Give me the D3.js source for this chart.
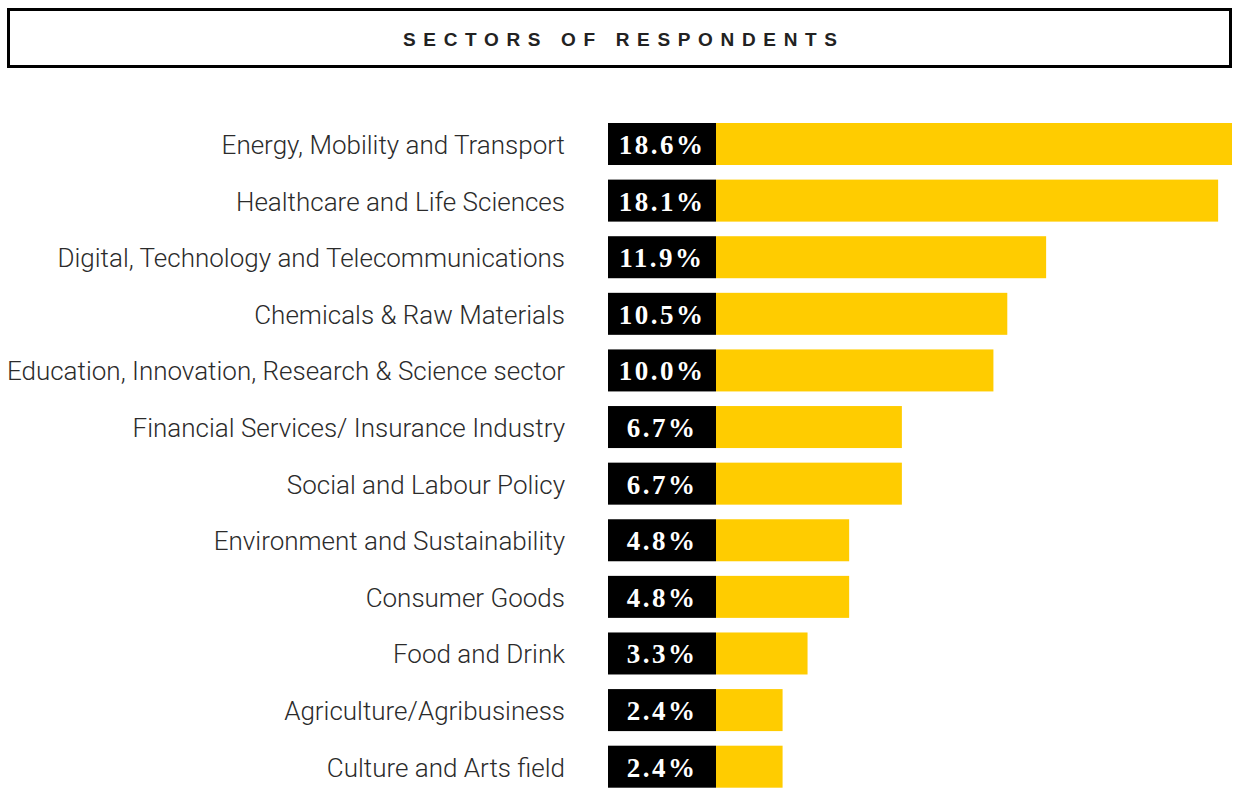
<!DOCTYPE html>
<html>
<head>
<meta charset="utf-8">
<script src="https://cdn.jsdelivr.net/npm/d3@7"></script>
<style>
    body { margin: 0; background: #fff; }
    svg { display: block; }
    .sector-label { font-family: Roboto, "Noto Sans", sans-serif; font-weight: 300; fill: #2b2b2b; }
    .pct-label { font-family: "Liberation Serif", "DejaVu Serif", serif; font-weight: bold; fill: #fff; }
</style>
</head>
<body>
<svg id="chart" width="1235" height="793"></svg>
<script>
// Sectors of respondents, share in %
const sectors = [
    "Energy, Mobility and Transport",
    "Healthcare and Life Sciences",
    "Digital, Technology and Telecommunications",
    "Chemicals & Raw Materials",
    "Education, Innovation, Research & Science sector",
    "Financial Services/ Insurance Industry",
    "Social and Labour Policy",
    "Environment and Sustainability",
    "Consumer Goods",
    "Food and Drink",
    "Agriculture/Agribusiness",
    "Culture and Arts field"
];
const shares = [18.6, 18.1, 11.9, 10.5, 10.0, 6.7, 6.7, 4.8, 4.8, 3.3, 2.4, 2.4];
const title = "SECTORS OF RESPONDENTS";

const svg = d3.select("#chart");

// title box
svg.append("rect")
    .attr("x", 8.5).attr("y", 9.5)
    .attr("width", 1222).attr("height", 57)
    .attr("fill", "none")
    .attr("stroke", "#000")
    .attr("stroke-width", 3);

svg.append("text")
    .attr("x", 620).attr("y", 46)
    .attr("text-anchor", "middle")
    .attr("textLength", 434)
    .attr("lengthAdjust", "spacing")
    .style("font-family", "'Liberation Sans', Arial, sans-serif")
    .style("font-weight", "bold")
    .style("font-size", "19px")
    .style("fill", "#222")
    .text(title);

const data = sectors.map((s, i) => ({sector: s, value: shares[i]}));

const y = d3.scaleBand()
    .domain(sectors)
    .range([123, 787.7])
    .paddingInner(0.258)
    .paddingOuter(0);

const boxLeft = 608, boxRight = 716;
const x = d3.scaleLinear()
    .domain([0, d3.max(shares)])
    .range([boxRight, 1232]);

const rows = svg.selectAll("g.row")
    .data(data)
    .enter().append("g")
    .attr("class", "row")
    .attr("transform", d => "translate(0," + y(d.sector) + ")");

// yellow bar
rows.append("rect")
    .attr("x", x(0))
    .attr("width", d => x(d.value) - x(0))
    .attr("height", y.bandwidth())
    .attr("fill", "#ffcc00");

// black value box
rows.append("rect")
    .attr("x", boxLeft)
    .attr("width", boxRight - boxLeft)
    .attr("height", y.bandwidth())
    .attr("fill", "#000");

rows.append("text")
    .attr("class", "pct-label")
    .attr("x", (boxLeft + boxRight) / 2)
    .attr("y", y.bandwidth() / 2 + 10)
    .attr("text-anchor", "middle")
    .style("font-size", "27px")
    .style("letter-spacing", "2.5px")
    .text(d => d3.format(".1f")(d.value) + "%");

rows.append("text")
    .attr("class", "sector-label")
    .attr("x", 565)
    .attr("y", y.bandwidth() / 2 + 10)
    .attr("text-anchor", "end")
    .style("font-size", "26px")
    .text(d => d.sector);
</script>
</body>
</html>
